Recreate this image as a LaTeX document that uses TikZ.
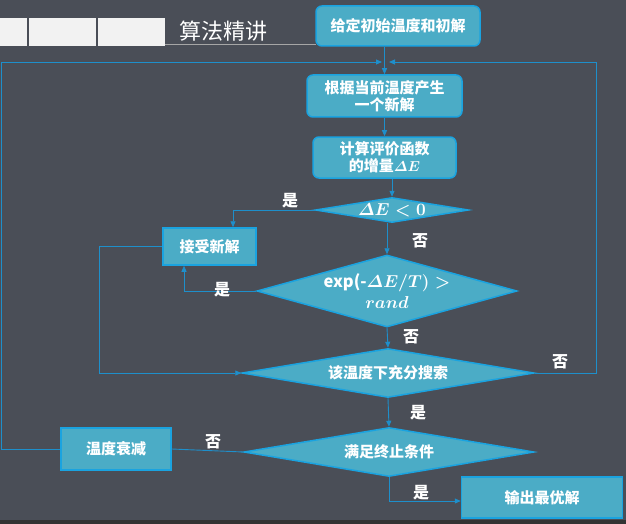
\documentclass[tikz,border=0pt]{standalone}
\usepackage[no-math]{fontspec}
\usepackage{amsmath}
\setmainfont{Noto Sans CJK SC}
\usetikzlibrary{shapes.geometric,arrows.meta}
\definecolor{bg}{HTML}{4A4E57}
\definecolor{boxfill}{HTML}{4BACC6}
\definecolor{boxline}{HTML}{1AA3E0}
\definecolor{connc}{HTML}{1E8FCB}
\definecolor{barc}{HTML}{F2F2F2}
\begin{document}
\begin{tikzpicture}[x=1pt,y=-1pt,
  proc/.style={draw=boxline, line width=1.5pt, fill=boxfill, text=white,
    font=\fontsize{15}{17}\selectfont\bfseries\boldmath, align=center, inner sep=0pt},
  rproc/.style={proc, rounded corners=6pt},
  dec/.style={diamond, draw=boxline, line width=1.5pt, fill=boxfill, text=white,
    font=\fontsize{15}{17}\selectfont\bfseries\boldmath, align=center, inner sep=0pt},
  conn/.style={draw=connc, line width=0.9pt},
  arr/.style={conn, -{Triangle[length=6pt,width=5pt]}},
  lab/.style={text=white, font=\fontsize{16}{18}\selectfont\bfseries, inner sep=0pt}
]
% background
\fill[bg] (0,0) rectangle (626,524);
\fill[black!80] (0,520) rectangle (626,524);
% header
\fill[barc] (0,18) rectangle (27,46);
\fill[barc] (29,18) rectangle (96,46);
\fill[barc] (98,18) rectangle (165,46);
\draw[gray!70, line width=0.8pt] (165,44) -- (316,44);
\node[text=white, font=\fontsize{22}{24}\selectfont, inner sep=0pt] (title) at (223,31) {算法精讲};

% nodes
\node[rproc, minimum width=164pt, minimum height=40pt] (b1) at (398,26) {给定初始温度和初解};
\node[rproc, minimum width=155pt, minimum height=42pt] (b2) at (384.5,96) {根据当前温度产生\\一个新解};
\node[rproc, minimum width=143pt, minimum height=41pt] (b3) at (384.5,157.5) {计算评价函数\\的增量$\varDelta E$};
\node[dec, shape aspect=6, minimum width=153pt, minimum height=25pt, font=\fontsize{16.5}{18}\selectfont\bfseries\boldmath] (d1) at (392,210) {$\varDelta E<0$};
\node[proc, minimum width=93pt, minimum height=37pt] (acc) at (209.5,246.5) {接受新解};
\node[dec, shape aspect=3.6, minimum width=260pt, minimum height=72pt, font=\fontsize{16.5}{21}\selectfont\bfseries\boldmath] (d2) at (387,291) {exp(-$\varDelta E/T)>$\\$rand$};
\node[dec, shape aspect=6, minimum width=292pt, minimum height=49pt] (d3) at (388,373) {该温度下充分搜索};
\node[dec, shape aspect=6, minimum width=290pt, minimum height=49pt] (d4) at (389,452) {满足终止条件};
\node[proc, minimum width=110pt, minimum height=42pt] (tdec) at (116,449) {温度衰减};
\node[proc, minimum width=161pt, minimum height=41pt] (out) at (542,497.5) {输出最优解};

\coordinate (jl) at (382,62);
\coordinate (jr) at (389,62);
\coordinate (rc) at (596,62);

% connectors
\draw[arr] (b2.north |- b1.south) -- (b2.north);
\draw[arr] (b2.south) -- (b3.north);
\draw[arr] (d1.north |- b3.south) -- (d1.north);
\draw[arr] (d2.north |- d1.south) -- (d2.north);
\draw[arr] (d1.west) -| ([xshift=23.5pt]acc.north);
\draw[arr] (d2.west) -| ([xshift=-25.5pt]acc.south);
\draw[arr] (acc.west) -- ++(-63,0) |- (d3.west);
\draw[arr] (d2.south) -- (d3.north);
\draw[arr] (d3.south) -- (d4.north);
\draw[conn] (d4.west) -- (tdec.east);
\draw[arr] (tdec.west) -- ++(-59,0) |- (jl);
\draw[arr] (d3.east) -| (rc) -- (jr);
\draw[arr] (d4.south) |- ([yshift=-3.5pt]out.west);

% labels
\node[lab] at (290,201) {是};
\node[lab] at (420,241) {否};
\node[lab] at (222,290) {是};
\node[lab] at (411,337) {否};
\node[lab] at (560,362) {否};
\node[lab] at (418,413) {是};
\node[lab] at (213,442) {否};
\node[lab] at (421,493) {是};
\end{tikzpicture}
\end{document}
